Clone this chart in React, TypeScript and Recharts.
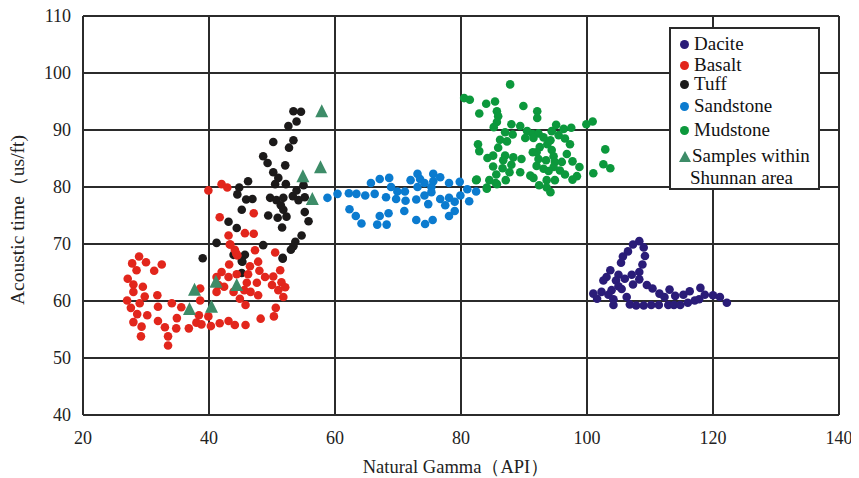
import React from 'react';
import { ScatterChart, Scatter, XAxis, YAxis, CartesianGrid, Label } from 'recharts';

const xTicks = [20, 40, 60, 80, 100, 120, 140];
const yTicks = [40, 50, 60, 70, 80, 90, 100, 110];

const dacite: number[][] = [
  [108.3, 70.5], [107.3, 69.9], [106.5, 68.7], [109.0, 69.4], [109.2, 67.9], [105.7, 67.8], [105.4, 66.7],
  [108.8, 66.4], [108.3, 65.1], [107.1, 64.6], [106.0, 63.9], [105.0, 64.6], [103.7, 65.4], [103.1, 64.2],
  [102.6, 63.6], [104.6, 63.6], [108.3, 63.8], [107.3, 62.9], [109.5, 62.8], [110.4, 62.2], [105.0, 62.6],
  [105.5, 62.1], [103.9, 61.9], [102.3, 61.6], [101.0, 61.3], [101.6, 60.4], [103.4, 61.1], [104.2, 60.3],
  [104.2, 59.3], [106.3, 60.7], [106.8, 59.4], [107.8, 59.2], [109.0, 59.2], [110.2, 59.3], [111.4, 59.3],
  [111.5, 61.3], [112.3, 60.7], [113.1, 62.0], [112.9, 59.3], [114.0, 60.9], [113.8, 59.3], [114.8, 59.3],
  [115.3, 61.1], [116.3, 61.7], [116.0, 59.7], [117.1, 60.1], [118.0, 62.3], [117.8, 60.3], [118.7, 61.1],
  [120.0, 61.0], [121.1, 60.7], [122.2, 59.7],
];

const basalt: number[][] = [
  [28.9, 67.8], [27.8, 66.6], [30.0, 66.8], [32.5, 66.4], [31.3, 65.3], [28.5, 65.4], [27.1, 63.9],
  [28.0, 62.9], [29.5, 62.5], [28.0, 61.6], [29.8, 60.8], [31.8, 61.0], [27.0, 60.1], [29.0, 59.6],
  [27.6, 58.8], [31.9, 59.0], [34.1, 59.6], [35.6, 58.9], [28.6, 57.7], [30.2, 57.5], [34.9, 57.0],
  [28.0, 56.3], [31.9, 56.5], [29.3, 55.5], [33.0, 55.4], [34.8, 55.2], [36.8, 55.2], [29.2, 53.8],
  [33.5, 53.8], [33.5, 52.2], [38.6, 62.2], [38.6, 60.1], [38.4, 57.5], [38.0, 56.2], [38.8, 55.9],
  [39.9, 57.3], [40.3, 55.6], [41.7, 56.1], [43.1, 56.5], [44.1, 55.8], [45.8, 55.8], [48.2, 56.9],
  [50.3, 57.3], [50.6, 58.8], [45.8, 59.3], [44.9, 60.4], [47.8, 61.0], [46.6, 61.6], [45.6, 61.9],
  [41.2, 61.6], [42.4, 62.5], [43.9, 61.6], [46.0, 63.2], [47.6, 63.2], [48.9, 64.2], [50.2, 64.3],
  [50.0, 62.8], [51.0, 61.9], [51.5, 63.3], [52.1, 62.4], [51.8, 60.7], [51.3, 65.4], [50.5, 68.5],
  [47.3, 68.9], [47.8, 66.9], [46.5, 66.1], [48.0, 65.3], [46.2, 64.7], [44.4, 64.7], [43.1, 64.2],
  [42.0, 65.1], [43.2, 66.4], [41.2, 64.2], [41.5, 62.8], [44.5, 68.0], [43.3, 69.9], [44.1, 69.0],
  [39.9, 79.4], [42.0, 80.5], [42.9, 79.9], [41.7, 74.7], [47.1, 75.4], [43.1, 71.5], [45.7, 71.9],
  [47.1, 71.8], [43.4, 69.9], [44.3, 68.4],
];

const tuff: number[][] = [
  [53.4, 93.3], [54.6, 93.2], [53.9, 91.5], [52.6, 90.7], [53.4, 88.2], [50.2, 87.9], [52.7, 86.9],
  [48.6, 85.4], [49.3, 84.2], [52.1, 83.8], [50.2, 82.6], [51.0, 81.6], [46.2, 81.0], [44.8, 79.9],
  [50.5, 80.5], [52.2, 80.5], [55.0, 80.3], [53.9, 79.4], [44.5, 78.7], [49.7, 78.1], [50.7, 77.7],
  [51.8, 78.1], [53.3, 78.4], [54.2, 77.7], [55.2, 78.2], [45.9, 77.8], [46.9, 77.9], [45.2, 76.0],
  [51.4, 76.8], [51.8, 76.0], [49.4, 75.0], [50.9, 74.6], [52.3, 74.8], [55.2, 75.6], [55.8, 74.0],
  [43.1, 73.9], [44.4, 72.8], [51.6, 72.9], [54.7, 71.5], [53.7, 70.4], [41.2, 70.2], [48.6, 69.8],
  [53.4, 69.6], [53.0, 69.0], [39.0, 67.5], [51.7, 67.4], [43.9, 68.1], [45.7, 68.1], [45.2, 67.0],
  [45.2, 64.9], [45.3, 66.9], [51.7, 67.6],
];

const sandstone: number[][] = [
  [58.8, 78.1], [60.4, 78.8], [62.2, 78.9], [63.4, 78.8], [64.8, 78.5], [66.3, 78.8], [65.7, 80.7],
  [67.1, 81.4], [68.6, 81.6], [68.9, 80.0], [68.1, 78.2], [69.9, 79.2], [69.7, 77.9], [71.1, 79.2],
  [71.2, 77.6], [72.0, 81.2], [73.1, 82.3], [73.5, 81.4], [73.1, 80.0], [74.2, 80.7], [75.6, 82.3],
  [76.7, 81.7], [75.6, 81.0], [75.3, 80.0], [75.3, 79.1], [74.2, 78.5], [72.9, 77.8], [74.8, 77.0],
  [76.7, 77.9], [77.5, 76.8], [78.1, 80.7], [78.1, 78.1], [79.0, 77.4], [79.8, 80.9], [79.9, 78.5],
  [81.0, 79.6], [81.3, 77.5], [82.4, 79.2], [79.0, 75.8], [78.1, 74.9], [62.3, 76.1], [63.3, 74.9],
  [64.2, 73.6], [67.1, 74.9], [68.5, 75.4], [66.7, 73.4], [68.2, 73.4], [71.0, 75.8], [72.9, 74.2],
  [74.3, 73.5], [75.5, 74.2],
];

const mudstone: number[][] = [
  [87.8, 98.0], [80.5, 95.6], [81.4, 95.3], [84.0, 94.6], [85.4, 95.0], [82.9, 92.9], [85.7, 93.3],
  [85.9, 92.4], [85.7, 91.4], [85.2, 90.5], [89.9, 94.2], [92.1, 93.3], [92.1, 92.1], [88.0, 91.0],
  [89.4, 90.7], [87.0, 89.6], [88.2, 89.2], [90.5, 89.8], [91.4, 89.3], [92.3, 89.4], [90.2, 88.6],
  [91.5, 88.6], [93.1, 88.7], [95.1, 90.9], [96.3, 90.2], [97.5, 90.4], [94.4, 89.8], [95.5, 89.1],
  [96.5, 88.5], [94.2, 88.2], [93.7, 87.5], [92.5, 87.0], [94.4, 86.5], [92.0, 86.1], [97.3, 87.5],
  [96.8, 85.8], [86.2, 88.3], [87.3, 88.0], [82.7, 87.5], [82.9, 86.3], [85.9, 86.9], [85.1, 85.5],
  [84.2, 85.1], [87.0, 85.5], [88.3, 85.2], [86.7, 84.7], [89.6, 84.9], [91.4, 86.1], [92.3, 84.9],
  [93.5, 84.7], [94.7, 85.4], [94.9, 84.4], [96.0, 84.4], [97.7, 84.5], [85.1, 83.6], [86.6, 83.3],
  [88.0, 83.9], [92.0, 83.7], [93.1, 83.2], [94.7, 83.5], [95.7, 82.9], [98.8, 83.5], [85.6, 82.2],
  [87.7, 82.6], [89.4, 82.6], [91.0, 82.0], [93.9, 82.8], [96.5, 82.2], [98.4, 81.9], [97.7, 81.3],
  [82.5, 81.3], [84.5, 81.2], [87.1, 81.2], [91.5, 81.6], [93.6, 81.2], [94.9, 81.2], [84.1, 79.9],
  [85.7, 80.5], [92.4, 80.3], [93.6, 79.9], [94.2, 79.1], [99.9, 91.0], [100.9, 91.5], [102.9, 86.6],
  [102.6, 84.0], [103.7, 83.3], [101.0, 82.4], [82.4, 81.2], [84.1, 79.7], [85.5, 80.7],
];

const samples: number[][] = [
  [57.9, 93.1], [57.7, 83.3], [54.9, 81.7], [56.4, 77.7], [37.7, 61.8], [41.1, 63.2], [44.4, 62.6],
  [36.9, 58.4], [40.4, 58.8],
];

const seriesNames = ['Dacite', 'Basalt', 'Tuff', 'Sandstone', 'Mudstone', 'Samples within', 'Shunnan area'];

const COLORS = {
  dacite: '#2a1c78',
  basalt: '#e2261c',
  tuff: '#1c1a1a',
  sandstone: '#0b7bcf',
  mudstone: '#0c983c',
  samples: '#3d8c68',
};

const toObjs = (arr: number[][]) => arr.map(([x, y]) => ({ x, y }));

const FONT = 'Liberation Serif';

const dot = (color: string) => (props: any) => (
  <circle cx={props.cx} cy={props.cy} r={4.3} fill={color} />
);

const tri = (props: any) => {
  const { cx, cy } = props;
  const h = 13;
  const w = 13;
  const pts = `${cx},${cy - h * 0.62} ${cx - w / 2},${cy + h * 0.38} ${cx + w / 2},${cy + h * 0.38}`;
  return <polygon points={pts} fill={COLORS.samples} />;
};

const LegendBox = () => {
  const rows = [
    { label: seriesNames[0], color: COLORS.dacite, top: 15 },
    { label: seriesNames[1], color: COLORS.basalt, top: 36 },
    { label: seriesNames[2], color: COLORS.tuff, top: 55 },
    { label: seriesNames[3], color: COLORS.sandstone, top: 77 },
    { label: seriesNames[4], color: COLORS.mudstone, top: 101 },
  ];
  return (
    <div
      style={{
        position: 'absolute',
        left: 669,
        top: 27,
        width: 151,
        height: 163,
        boxSizing: 'border-box',
        border: '2px solid #2a2a2a',
        background: '#fff',
        fontFamily: FONT,
        fontSize: 19,
        color: '#111',
      }}
    >
      {rows.map((r) => (
        <div key={r.label} style={{ position: 'absolute', left: 0, top: r.top - 12, height: 24, display: 'flex', alignItems: 'center', whiteSpace: 'nowrap' }}>
          <span style={{ display: 'inline-block', width: 9, height: 9, borderRadius: '50%', background: r.color, marginLeft: 9, marginRight: 5 }} />
          <span style={{ lineHeight: '24px' }}>{r.label}</span>
        </div>
      ))}
      <div style={{ position: 'absolute', left: 0, top: 127 - 12, height: 24, display: 'flex', alignItems: 'center', whiteSpace: 'nowrap' }}>
        <svg width={12} height={11} style={{ marginLeft: 8, marginRight: 1 }}>
          <polygon points="6,0 0,11 12,11" fill={COLORS.samples} />
        </svg>
        <span style={{ lineHeight: '24px' }}>{seriesNames[5]}</span>
      </div>
      <div style={{ position: 'absolute', left: 19, top: 149 - 12, height: 24, lineHeight: '24px', whiteSpace: 'nowrap' }}>{seriesNames[6]}</div>
    </div>
  );
};

export default function App() {
  const tickStyle = { fontFamily: FONT, fontSize: 18, fill: '#222' };
  return (
    <div style={{ position: 'relative', width: 859, height: 478, margin: '-8px 0 0 -8px', fontFamily: FONT }}>
      <ScatterChart width={859} height={478} margin={{ top: 16, right: 20, left: 0, bottom: 0 }} style={{ fontFamily: FONT }}>
        <CartesianGrid stroke="#2b2b2b" strokeWidth={2} horizontalValues={yTicks} verticalValues={xTicks} />
        <XAxis
          type="number"
          dataKey="x"
          domain={[20, 140]}
          ticks={xTicks}
          height={63}
          tickLine={false}
          tickSize={0}
          tickMargin={16}
          axisLine={{ stroke: '#2b2b2b', strokeWidth: 2 }}
          tick={tickStyle}
          interval={0}
          allowDataOverflow
        >
          <Label
            content={() => (
              <text x={456} y={473} textAnchor="middle" style={{ fontFamily: FONT, fontSize: 18.5 }} fill="#222">
                Natural Gamma（API）
              </text>
            )}
          />
        </XAxis>
        <YAxis
          type="number"
          dataKey="y"
          domain={[40, 110]}
          ticks={yTicks}
          width={83}
          tickLine={false}
          tickSize={0}
          tickMargin={12}
          axisLine={{ stroke: '#2b2b2b', strokeWidth: 2 }}
          tick={tickStyle}
          interval={0}
          allowDataOverflow
        >
          <Label
            content={() => (
              <text
                x={24}
                y={220}
                transform="rotate(-90 24 220)"
                textAnchor="middle"
                style={{ fontFamily: FONT, fontSize: 19.5 }}
                fill="#222"
              >
                Acoustic time（us/ft)
              </text>
            )}
          />
        </YAxis>
        <Scatter name="Dacite" data={toObjs(dacite)} shape={dot(COLORS.dacite)} isAnimationActive={false} />
        <Scatter name="Tuff" data={toObjs(tuff)} shape={dot(COLORS.tuff)} isAnimationActive={false} />
        <Scatter name="Basalt" data={toObjs(basalt)} shape={dot(COLORS.basalt)} isAnimationActive={false} />
        <Scatter name="Sandstone" data={toObjs(sandstone)} shape={dot(COLORS.sandstone)} isAnimationActive={false} />
        <Scatter name="Mudstone" data={toObjs(mudstone)} shape={dot(COLORS.mudstone)} isAnimationActive={false} />
        <Scatter name="Samples" data={toObjs(samples)} shape={tri} isAnimationActive={false} />
      </ScatterChart>
      <LegendBox />
    </div>
  );
}
